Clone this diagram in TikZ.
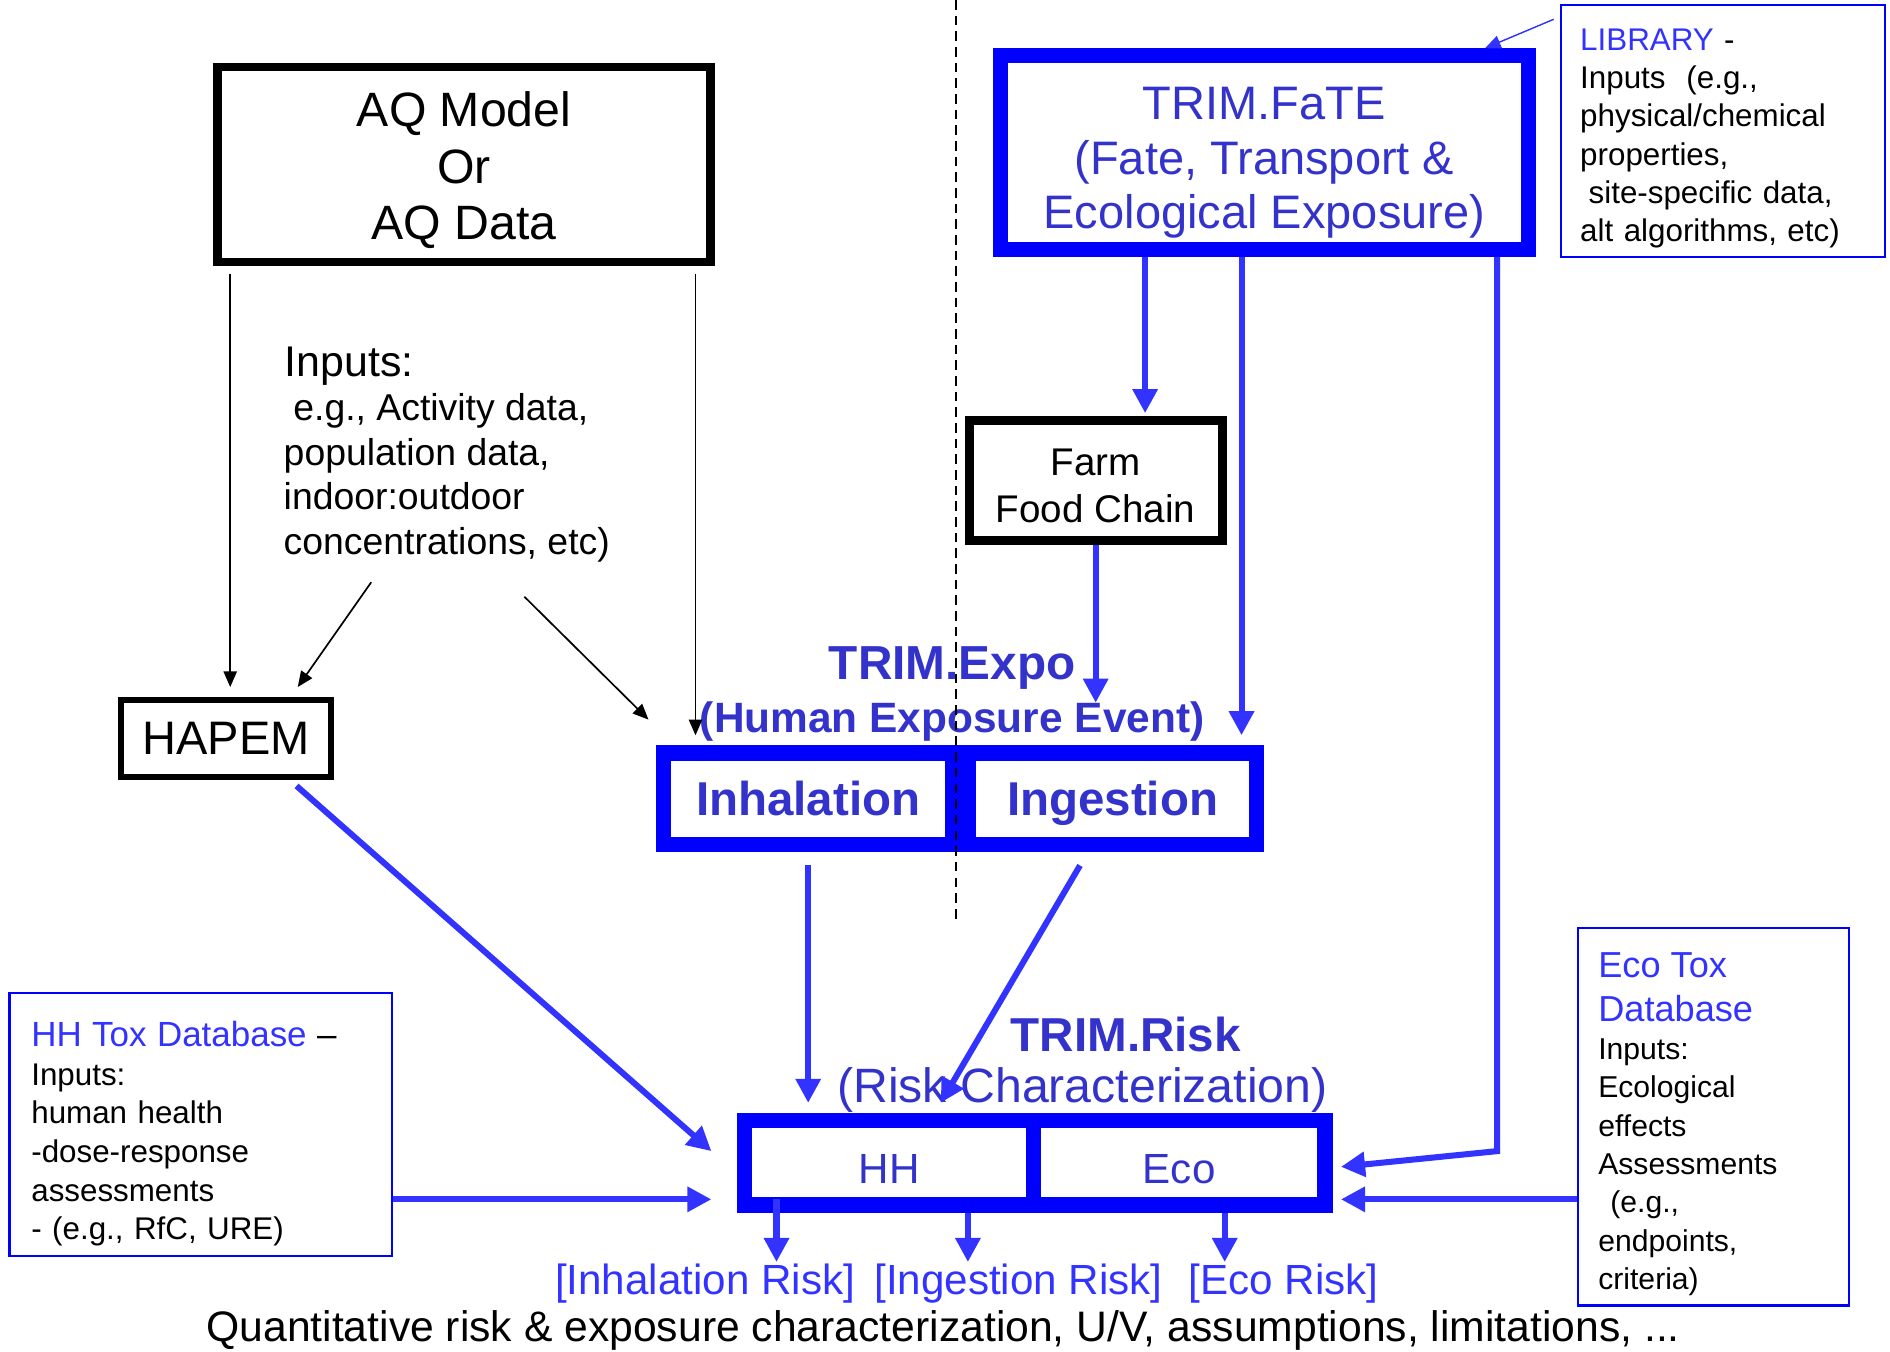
\documentclass[tikz,border=0pt]{standalone}
\usepackage{fontspec}
\setmainfont{Liberation Sans}
\usetikzlibrary{arrows.meta,positioning}

\definecolor{boxblue}{RGB}{0,0,255}
\definecolor{arrowblue}{RGB}{51,51,255}
\definecolor{textblue}{RGB}{51,51,204}
\newcommand{\setfs}[2]{\fontsize{#1}{#2}\selectfont}
\setlength{\parindent}{0pt}

\begin{document}
\begin{tikzpicture}[x=0.5pt,y=-0.5pt,
    blackbox/.style={draw=black,inner sep=0pt,align=center},
    bluebox/.style={draw=boxblue,line width=6.5pt,inner sep=0pt,align=center,text=textblue},
    infobox/.style={draw=boxblue,line width=1pt,inner ysep=0pt,align=left},
    title/.style={inner sep=0pt,text=textblue},
    thinarrow/.style={-{Triangle[length=6.5pt,width=5.5pt]},line width=0.7pt},
    bluearrow/.style={-{Triangle[length=10pt,width=10pt]},arrowblue,line width=2.5pt}]
  \useasboundingbox (0,0) rectangle (1568,1121);

  % source boxes
  \node[blackbox,line width=3.5pt,minimum width=204.5pt,minimum height=81pt,
        font=\setfs{20pt}{23.5pt}] (aq) at (385,136.5) {\rule{0pt}{19.1pt}AQ Model\\Or\\AQ Data};
  \node[blackbox,line width=2.5pt,minimum width=87pt,minimum height=32pt,
        font=\setfs{19.5pt}{23pt}] (hapem) at (187.5,612.5) {HAPEM};
  \node[bluebox,line width=6.25pt,minimum width=218.75pt,minimum height=80.25pt,
        font=\setfs{19.5pt}{22.5pt}] (fate) at (1049,126.5)
        {\rule{0pt}{22pt}TRIM.FaTE\\(Fate, Transport \&\\Ecological Exposure)};
  \node[blackbox,line width=3.75pt,minimum width=105pt,minimum height=50pt,
        font=\setfs{16pt}{19.5pt}] (farm) at (909,398.5) {\rule{0pt}{15.5pt}Farm\\Food Chain};

  % exposure
  \node[bluebox,minimum width=120pt,minimum height=38pt,text depth=0pt,
        font=\bfseries\setfs{19.7pt}{23pt}] (inhal) at (670.5,662.5) {Inhalation};
  \node[bluebox,minimum width=119.5pt,minimum height=38pt,text depth=0pt,
        font=\bfseries\setfs{19.7pt}{23pt},right=0pt of inhal] (ingest) {Ingestion};
  \node[title,font=\bfseries\setfs{19.8pt}{23pt}] (expo) at (790,554) {TRIM.Expo};
  \node[title,font=\bfseries\setfs{17.6pt}{21pt},below=5pt of expo] (expoSub) {(Human Exposure Event)};

  % risk
  \node[title,font=\bfseries\setfs{19.75pt}{23pt}] (risk) at (934,858) {TRIM.Risk};
  \node[title,font=\setfs{20pt}{24pt}] (riskSub) at (898,904) {(Risk Characterization)};
  \node[bluebox,minimum width=119.9pt,minimum height=35pt,text height=17.5pt,
        font=\setfs{17.5pt}{21pt}] (hh) at (737.6,964.5) {HH};
  \node[bluebox,minimum width=120.75pt,minimum height=35pt,text height=17.5pt,
        font=\setfs{17.5pt}{21pt},right=-6.5pt of hh] (eco) {Eco};

  % inputs and databases
  \node[inner sep=0pt,anchor=base west,font=\setfs{17.8pt}{21pt}] (inputs) at (236,312) {Inputs:};
  \node[inner sep=0pt,anchor=north west,align=left,font=\setfs{15.5pt}{18.5pt}] (inputList) at (235,326)
        {\hspace*{4pt}e.g., Activity data,\\population data,\\indoor:outdoor\\concentrations, etc)};
  \node[infobox,text width=118.5pt,inner xsep=8pt,minimum height=104.5pt,
        font=\setfs{13pt}{15.9pt}] (library) at (1429.5,108.5)
        {\rule{0pt}{15.3pt}\textcolor{arrowblue}{LIBRARY} -\\Inputs\ \ (e.g.,\\physical/chemical\\properties,\\\hspace*{3.5pt}site-specific data,\\alt algorithms, etc)};
  \node[infobox,text width=140.5pt,inner xsep=9pt,minimum height=109pt,
        font=\setfs{13pt}{16pt}] (hhtox) at (166.5,933)
        {{\setfs{14.5pt}{17pt}\rule{0pt}{18.1pt}\textcolor{arrowblue}{HH Tox Database} --\par}Inputs:\\human health\\-dose-response\\assessments\\- (e.g., RfC, URE)};
  \node[infobox,text width=95.5pt,inner xsep=8.5pt,minimum height=156.5pt,
        font=\setfs{12.5pt}{15.9pt}] (ecotox) at (1421.5,926.5)
        {{\setfs{15pt}{18pt}\color{arrowblue}\rule{0pt}{16.7pt}Eco Tox\\Database\par}Inputs:\\Ecological\\effects\\Assessments\\\hspace*{5pt}(e.g.,\\endpoints,\\criteria)};

  % outputs
  \node[title,text=arrowblue,font=\setfs{17.5pt}{21pt}] (inhRisk) at (585,1065) {[Inhalation Risk]};
  \node[title,text=arrowblue,font=\setfs{17.5pt}{21pt}] (ingRisk) at (845,1065) {[Ingestion Risk]};
  \node[title,text=arrowblue,font=\setfs{17.5pt}{21pt}] (ecoRisk) at (1065,1065) {[Eco Risk]};
  \node[inner sep=0pt,font=\setfs{17.7pt}{21pt}] (summary) at (782.5,1104)
        {Quantitative risk \& exposure characterization, U/V, assumptions, limitations, ...};

  % connector ends
  \coordinate (aqL) at ([xshift=7pt,yshift=-3pt]aq.south west);
  \coordinate (aqR) at ([xshift=-8pt,yshift=-3pt]aq.south east);
  \coordinate (inpA) at (308,483);
  \coordinate (inpB) at (435,495);
  \coordinate (fateA) at ([xshift=-49.5pt]fate.south);
  \coordinate (fateB) at ([xshift=-9.5pt]fate.south);
  \coordinate (fateC) at ([xshift=-16pt]fate.south east);
  \coordinate (bendC) at (1242,955);
  \coordinate (ecoTop) at ([xshift=3.5pt,yshift=-1.75pt]eco.east);
  \coordinate (hhIn) at ([xshift=-10.5pt,yshift=5.5pt]hh.south west);
  \coordinate (ecoIn) at ([xshift=3.5pt,yshift=5.5pt]eco.south east);
  \coordinate (divTop) at (793,0);
  \coordinate (divBot) at (793,765);

  % black inputs
  \path[thinarrow]
    (aqL) edge[shorten >=4pt] (aqL |- hapem.north)
    (aqR) edge[shorten >=4pt] (aqR |- inhal.north)
    (inpA) edge ([xshift=29.75pt,yshift=4pt]hapem.north)
    (inpB) edge ([xshift=-3pt,yshift=10.5pt]inhal.north west);
  \draw[thinarrow,arrowblue,line width=0.6pt]
    ([xshift=-2.5pt,yshift=-6.5pt]library.north west) -- ([xshift=-21pt]fate.north east);

  % blue flows
  \path[bluearrow]
    (fateA) edge[shorten >=1pt] (fateA |- farm.north)
    (fateB) edge[shorten >=4pt] (fateB |- ingest.north)
    (farm.south) edge[shorten >=17.5pt] (farm.south |- ingest.north)
    (inhal.south) edge[shorten <=5.5pt,shorten >=4pt] (inhal.south |- hh.north)
    ([xshift=-13.5pt,yshift=-5.5pt]ingest.south) edge ([xshift=21.4pt,yshift=4pt]hh.north)
    ([xshift=-15.5pt,yshift=-2.5pt]hapem.south east) edge ([xshift=-10.5pt,yshift=4.75pt]hh.west)
    (hhIn -| hhtox.east) edge (hhIn)
    (ecoIn -| ecotox.west) edge (ecoIn);
  \draw[bluearrow] (fateC) -- (fateC |- bendC) -- (ecoTop);

  % outputs
  \path[bluearrow]
    ([xshift=16.5pt,yshift=5.5pt]hh.south west) edge ([xshift=16.5pt,yshift=-20.5pt]hh.south west)
    ([xshift=-30.5pt]hh.south east) edge ([xshift=-30.5pt,yshift=-20.5pt]hh.south east)
    ([xshift=18.9pt]eco.south) edge ([xshift=18.9pt,yshift=-20.5pt]eco.south);

  \draw[dash pattern=on 4pt off 2.5pt,line width=0.7pt] (divTop) -- (divBot);
\end{tikzpicture}
\end{document}
